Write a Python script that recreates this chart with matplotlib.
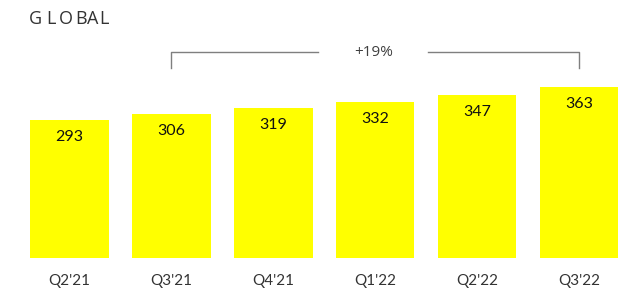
import matplotlib
matplotlib.use("Agg")
import matplotlib.pyplot as plt

quarters = ["Q2'21", "Q3'21", "Q4'21", "Q1'22", "Q2'22", "Q3'22"]
values = [293, 306, 319, 332, 347, 363]
growth_label = "+19%"
title = "GLOBAL"

fig = plt.figure(figsize=(6.25, 3.01), dpi=100)
ax = fig.add_axes([0, 0, 1, 1])
ax.set_xlim(-0.682, 5.451)
ax.set_ylim(-91.3, 547.8)
ax.axis("off")

x = list(range(len(values)))
bars = ax.bar(x, values, width=0.77, color="#FFFF00")

# value labels inside the bar tops
for xi, v in zip(x, values):
    ax.annotate(str(v), (xi, v), xytext=(0, -12.5), textcoords="offset points",
                ha="center", va="center", fontsize=11.5, family="Lato", color="#111111")

# quarter labels under the bars
for xi, q in zip(x, quarters):
    ax.annotate(q, (xi, 0), xytext=(0, -16.5), textcoords="offset points",
                ha="center", va="center", fontsize=11, family="Lato", color="#333333")

# growth bracket from Q3'21 to Q3'22
y_top, y_bot = 437, 403
lc = "#7f7f7f"
ax.plot([1, 1, 2.44], [y_bot, y_top, y_top], color=lc, lw=1)
ax.plot([3.52, 5, 5], [y_top, y_top, y_bot], color=lc, lw=1)
ax.text(2.98, y_top, growth_label, ha="center", va="center", fontsize=11,
        family="Open Sans", color="#404040")

# letter-spaced title (letter centres in pixels)
letter_px = [35.5, 50.5, 65.5, 81, 93, 103.5]
for ch, px in zip(title, letter_px):
    fig.text(px / 625, 1 - 19 / 301, ch, ha="center", va="center",
             fontsize=13, family="Open Sans", color="#333333")

fig.savefig("out.png", dpi=100)
